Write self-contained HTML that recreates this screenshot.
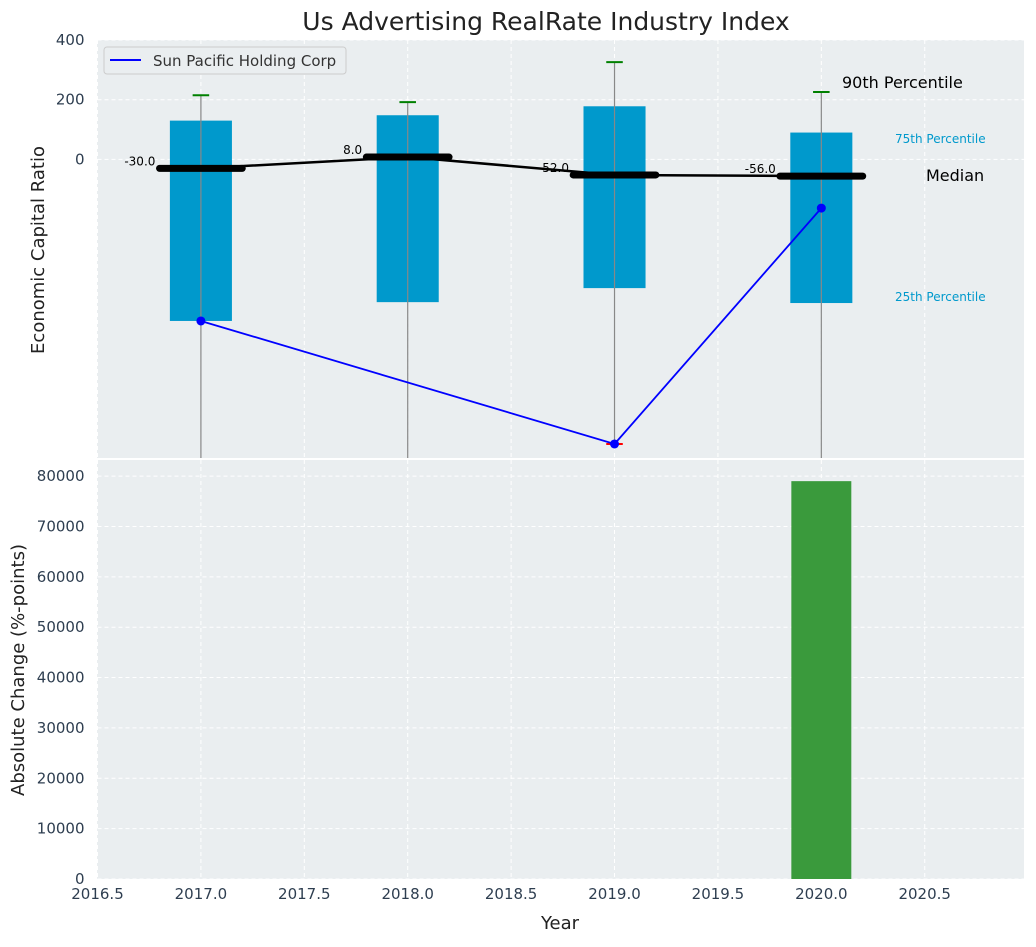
<!DOCTYPE html>
<html><head><meta charset="utf-8">
<style>
body{margin:0;background:#fff;font-family:"Liberation Sans","DejaVu Sans",sans-serif;}
svg text{font-family:"DejaVu Sans","Liberation Sans",sans-serif;}
</style></head>
<body>
<svg id="chart" width="1036" height="942" xmlns="http://www.w3.org/2000/svg">
<rect x="97" y="40" width="927" height="418" fill="#eaeef0"/>
<rect x="97" y="460" width="927" height="419" fill="#eaeef0"/>
<g id="grid"></g>
<g id="marks"></g>
<g id="axes"></g>
<text x="546" y="30" font-size="25" text-anchor="middle" fill="#222">Us Advertising RealRate Industry Index</text>
<text x="44" y="250" font-size="18" text-anchor="middle" fill="#222" transform="rotate(-90 44 250)">Economic Capital Ratio</text>
<text x="24" y="670" font-size="18" text-anchor="middle" fill="#222" transform="rotate(-90 24 670)">Absolute Change (%-points)</text>
<text x="560" y="929" font-size="18" text-anchor="middle" fill="#222">Year</text>
<g>
<rect x="104" y="47" width="242" height="27" rx="3" fill="#eaeef0" stroke="#ccc"/>
<line x1="110" y1="60" x2="141" y2="60" stroke="#0000ff" stroke-width="2"/>
<text x="153" y="66" font-size="15" fill="#333">Sun Pacific Holding Corp</text>
</g>
<text x="842" y="88" font-size="16" fill="#000">90th Percentile</text>
<text x="895" y="143" font-size="12" fill="#0099cc">75th Percentile</text>
<text x="926" y="181" font-size="16" fill="#000">Median</text>
<text x="895" y="301" font-size="12" fill="#0099cc">25th Percentile</text>
</svg>
<script>
const years=[2017,2018,2019,2020];
const q75=[130,148,178,90];
const q25=[-541,-478,-431,-481];
const p90=[215,192,326,226];
const p10=[-1100,-1100,-953,-1100];
const medians=[-30,8,-52,-56];
const companyYears=[2017,2019,2020];
const companyValues=[-541,-953,-163];
const changeYears=[2020];
const changeValues=[79000];
const topTicks=[0,200,400];
const bottomTicks=[0,10000,20000,30000,40000,50000,60000,70000,80000];
const xTicks=[2016.5,2017,2017.5,2018,2018.5,2019,2019.5,2020,2020.5];

const NS="http://www.w3.org/2000/svg";
const X0=97.5,X1=1024,TT=40,TB=458,BT=460,BB=879;
const xs=v=>X0+(v-2016.5)/(2020.98-2016.5)*(X1-X0);
const yt=v=>TT+(400-v)/1400*(TB-TT);
const yb=v=>BB-v/83200*(BB-BT);
function el(tag,attrs,parent,name,txt){const e=document.createElementNS(NS,tag);for(const k in attrs)e.setAttribute(k,attrs[k]);


if(txt!==undefined)e.textContent=txt;parent.appendChild(e);return e;}
const G=document.getElementById('grid'),M=document.getElementById('marks'),A=document.getElementById('axes');
const cl=(v,a,b)=>Math.max(a,Math.min(b,v));
xTicks.forEach(t=>{
 el('line',{x1:xs(t),x2:xs(t),y1:TT,y2:TB,stroke:'#fff','stroke-dasharray':'4,3'},G,'x-gridline-top');
 el('line',{x1:xs(t),x2:xs(t),y1:BT,y2:BB,stroke:'#fff','stroke-dasharray':'4,3'},G,'x-gridline-bottom');
 el('text',{x:xs(t),y:BB+20,'font-size':15,'text-anchor':'middle',fill:'#2e3e50'},A,'x-tick-label',t.toFixed(1));
});
topTicks.forEach(t=>{
 el('line',{x1:X0,x2:X1,y1:yt(t),y2:yt(t),stroke:'#fff','stroke-dasharray':'4,3'},G,'top-y-gridline');
 el('text',{x:X0-13,y:yt(t)+5,'font-size':15,'text-anchor':'end',fill:'#2e3e50'},A,'top-y-tick-label',t);
});
bottomTicks.forEach(t=>{
 el('line',{x1:X0,x2:X1,y1:yb(t),y2:yb(t),stroke:'#fff','stroke-dasharray':'4,3'},G,'bottom-y-gridline');
 el('text',{x:X0-13,y:yb(t)+5,'font-size':15,'text-anchor':'end',fill:'#2e3e50'},A,'bottom-y-tick-label',t);
});
years.forEach((y,i)=>{
 const x=xs(y),w=xs(y+0.15)-xs(y-0.15);
 el('rect',{x:x-w/2,y:yt(q75[i]),width:w,height:yt(q25[i])-yt(q75[i]),fill:'#0099cc'},M,'box-'+y);
 el('line',{x1:x,x2:x,y1:yt(p90[i]),y2:cl(yt(p10[i]),TT,TB),stroke:'#888','stroke-width':1.2},M,'whisker-'+y);
 const cw=xs(y+0.04)-xs(y-0.04);
 el('line',{x1:x-cw/2,x2:x+cw/2,y1:yt(p90[i]),y2:yt(p90[i]),stroke:'green','stroke-width':2},M,'upper-cap-'+y);
 if(yt(p10[i])<=TB) el('line',{x1:x-cw/2,x2:x+cw/2,y1:yt(p10[i]),y2:yt(p10[i]),stroke:'red','stroke-width':2},M,'lower-cap-'+y);
});
el('polyline',{points:years.map((y,i)=>xs(y)+','+yt(medians[i])).join(' '),fill:'none',stroke:'#000','stroke-width':2.5},M,'median-line');
years.forEach((y,i)=>{
 el('line',{x1:xs(y-0.2),x2:xs(y+0.2),y1:yt(medians[i]),y2:yt(medians[i]),stroke:'#000','stroke-width':7,'stroke-linecap':'round'},M,'median-bar-'+y);
 el('text',{x:xs(y-0.22),y:yt(medians[i])-3,'font-size':12,'text-anchor':'end',fill:'#000'},M,'median-label-'+y,medians[i].toFixed(1));
});
el('polyline',{points:companyYears.map((y,i)=>xs(y)+','+yt(companyValues[i])).join(' '),fill:'none',stroke:'#0000ff','stroke-width':1.8},M,'company-line');
companyYears.forEach((y,i)=>el('circle',{cx:xs(y),cy:yt(companyValues[i]),r:4.5,fill:'#0000ff'},M,'company-point-'+y));
changeYears.forEach((y,i)=>{
 el('rect',{x:xs(y-0.145),y:yb(changeValues[i]),width:xs(y+0.145)-xs(y-0.145),height:BB-yb(changeValues[i]),fill:'#3a9a3c'},M,'change-bar-'+y);
});
</script>
</body></html>
